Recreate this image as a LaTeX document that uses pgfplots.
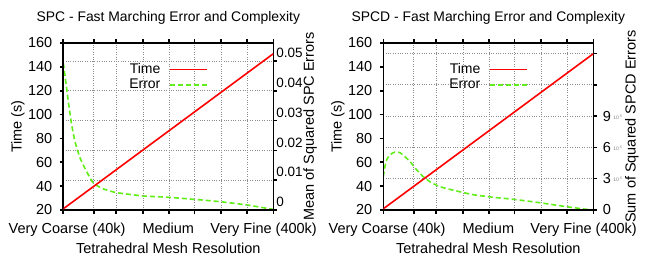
\documentclass[border=0pt]{standalone}
\usepackage{pgfplots}
\pgfplotsset{compat=1.18}
\usepackage{pgfplotstable}
\usepackage{fontspec}
\setmainfont{Liberation Sans}
\definecolor{tred}{RGB}{255,0,0}
\definecolor{egreen}{RGB}{96,238,24}
\definecolor{gridgray}{RGB}{140,140,140}

\pgfplotstableread{
x t
0 21
0.25 53.5
0.5 86
0.75 118.5
1 151
}\timedata

\pgfplotstableread{
x e
0.000 0.0493
0.012 0.0430
0.024 0.0363
0.040 0.0285
0.056 0.0229
0.080 0.0174
0.111 0.0129
0.143 0.0090
0.183 0.0073
0.207 0.0067
0.254 0.0058
0.381 0.0047
0.492 0.0043
0.619 0.0036
0.746 0.0028
0.873 0.0017
1.000 0.0002
}\spcdata

\pgfplotstableread{
x e
0.000 3.2
0.008 4.2
0.016 4.8
0.032 5.3
0.055 5.55
0.079 5.5
0.103 5.1
0.127 4.65
0.159 3.85
0.190 3.2
0.222 2.71
0.261 2.3
0.301 2.05
0.364 1.75
0.427 1.47
0.522 1.22
0.617 1.03
0.744 0.70
0.870 0.32
0.965 0.07
1.000 0.02
}\spcddata

\pgfplotsset{
  every axis/.append style={font=\fontsize{14.5bp}{17bp}\selectfont},
  timeleg/.style={legend image code/.code={\draw[draw=tred, line width=1.6bp, solid] (0bp,0bp) -- (37bp,0bp);}},
  errleg/.style={legend image code/.code={\draw[draw=egreen, line width=1.6bp, dash pattern=on 5bp off 3bp] (0bp,0bp) -- (37bp,0bp);}},
  timestyle/.style={tred, line width=1.6bp, timeleg},
  errstyle/.style={egreen, line width=1.6bp, dash pattern=on 5bp off 3bp, errleg},
  base/.style={
    scale only axis, width=210bp, height=167bp, anchor=south west,
    xmin=0, xmax=1,
    tick align=outside, major tick length=3.5bp,
    every tick/.style={black, line width=1.6bp},
    axis line style={black, line width=1.6bp},
    grid style={gridgray, dotted, line width=0.7bp},
  },
  timeaxis/.style={
    base,
    ymin=20, ymax=160,
    xtick={0,0.145,0.252,0.379,0.503,0.625,0.751,0.875,1},
    xticklabel=\empty,
    xtick pos=both,
    xmajorgrids,
    extra x ticks={0.018,0.5,0.954},
    extra x tick labels={Very Coarse (40k),Medium,Very Fine (400k)},
    extra x tick style={major tick length=0pt, grid=none,
      xticklabel style={anchor=north, yshift=-9bp}},
    ytick={20,40,60,80,100,120,140,160},
    yticklabels={20,40,60,80,100,120,140,160},
    ytick pos=left,
    yticklabel style={xshift=-4bp},
    xlabel={Tetrahedral Mesh Resolution},
    xlabel style={at={(rel axis cs:0.5,-0.2275)}, anchor=center},
    ylabel={Time (s)},
    ylabel style={at={(rel axis cs:-0.216,0.5)}, anchor=center, rotate=0},
    title style={at={(rel axis cs:0.5,1.114)}, anchor=center, font=\fontsize{13.9bp}{16bp}\selectfont},
    legend style={draw=none, fill=none, at={(rel axis cs:0.69,0.89)}, anchor=north east,
      inner sep=0pt, row sep=0bp, column sep=7bp,
      font=\fontsize{14bp}{15.5bp}\selectfont},
    legend cell align=right,
    legend plot pos=right,
  },
  erraxis/.style={
    base,
    axis x line=none,
    axis y line*=right,
    ymajorgrids,
    scaled y ticks=false,
  },
}

\begin{document}
\begin{tikzpicture}
\path[use as bounding box] (0,0) rectangle (647bp,256bp);

% ---------------- Left: SPC (error axis first, time axis with legend last) ----------------
\begin{axis}[erraxis, at={(63.3bp,46bp)},
  ymin=0, ymax=0.056,
  ytick={0,0.01,0.02,0.03,0.04,0.05},
  yticklabels={0,0.01,0.02,0.03,0.04,0.05},
  yticklabel style={xshift=-4bp, yshift=8bp, font=\fontsize{13.5bp}{15bp}\selectfont},
  ylabel={Mean of Squared SPC Errors},
  ylabel style={at={(rel axis cs:1.175,0.5)}, anchor=center, rotate=0}]
  \addplot[egreen, line width=1.6bp, dash pattern=on 5bp off 3bp, smooth, tension=0.3] table[x=x,y=e] {\spcdata};
\end{axis}
\begin{axis}[timeaxis, at={(63.3bp,46bp)},
  title={SPC - Fast Marching Error and Complexity}]
  \addplot[tred, line width=1.6bp, forget plot] table[x=x,y=t] {\timedata};
  \addlegendimage{timestyle}
  \addlegendentry{Time}
  \addlegendimage{errstyle}
  \addlegendentry{Error}
\end{axis}

% ---------------- Right: SPCD ----------------
\begin{axis}[erraxis, at={(383.3bp,46bp)},
  ymin=0, ymax=16,
  ytick={0,3,6,9,12,15},
  yticklabels={0,
    3\,\raisebox{2bp}{\fontsize{5bp}{6bp}\selectfont\textcolor{gray}{10\textsuperscript{-5}}},
    6\,\raisebox{2bp}{\fontsize{5bp}{6bp}\selectfont\textcolor{gray}{10\textsuperscript{-5}}},
    9\,\raisebox{2bp}{\fontsize{5bp}{6bp}\selectfont\textcolor{gray}{10\textsuperscript{-5}}},
    {},{}},
  yticklabel style={xshift=2.5bp},
  ylabel={Sum of Squared SPCD Errors},
  ylabel style={at={(rel axis cs:1.184,0.5)}, anchor=center, rotate=0}]
  \addplot[egreen, line width=1.6bp, dash pattern=on 5bp off 3bp, smooth, tension=0.3] table[x=x,y=e] {\spcddata};
\end{axis}
\begin{axis}[timeaxis, at={(383.3bp,46bp)},
  title={SPCD - Fast Marching Error and Complexity}]
  \addplot[tred, line width=1.6bp, forget plot] table[x=x,y=t] {\timedata};
  \addlegendimage{timestyle}
  \addlegendentry{Time}
  \addlegendimage{errstyle}
  \addlegendentry{Error}
\end{axis}
\end{tikzpicture}
\end{document}
